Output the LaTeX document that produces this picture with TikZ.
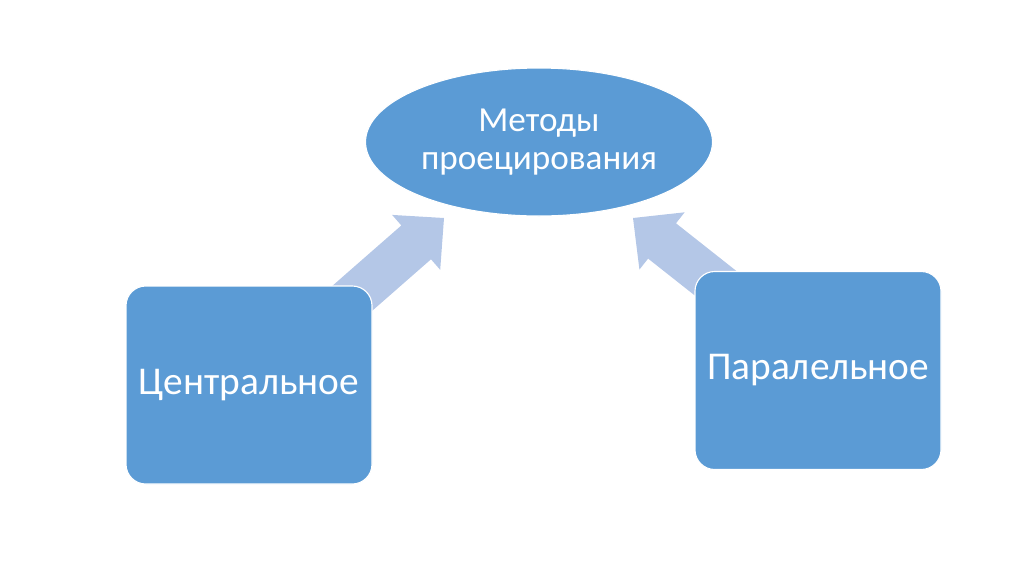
\documentclass[tikz,border=0pt]{standalone}
\usepackage{fontspec}
\setmainfont{Carlito}
\usetikzlibrary{shapes.geometric}
\definecolor{boxblue}{HTML}{5B9BD5}
\definecolor{arrowblue}{HTML}{B4C7E7}
\begin{document}
\begin{tikzpicture}[x=0.025cm,y=-0.025cm,
  bluebox/.style={draw=white,line width=0.8pt,fill=boxblue,rounded corners=14pt,
    minimum width=246*0.025cm,minimum height=198*0.025cm,text=white,font=\fontsize{28}{34}\selectfont},
  oval/.style={ellipse,draw=white,line width=0.8pt,fill=boxblue,minimum width=346*0.025cm,minimum height=148*0.025cm,
    text=white,align=center,font=\fontsize{25}{27}\selectfont},
  fatarrow/.style={fill=arrowblue}]
\useasboundingbox (0,0) rectangle (1024,574);
\node[oval] (m) at (539,142) {Методы\\проецирования};
\coordinate (ltip) at (444,218);
\coordinate (rtip) at (633,218);
\begin{scope}[shift={(ltip)},rotate=41.2]
  \fill[fatarrow] (0,0) -- (-37,36.5) -- (-37,22.5) -- (-150,22.5) -- (-150,-22.5) -- (-37,-22.5) -- (-37,-36.5) -- cycle;
\end{scope}
\begin{scope}[shift={(rtip)},rotate=141.7]
  \fill[fatarrow] (0,0) -- (-37,36.5) -- (-37,22.5) -- (-150,22.5) -- (-150,-22.5) -- (-37,-22.5) -- (-37,-36.5) -- cycle;
\end{scope}
\node[bluebox] (c) at (249,385) {Центральное};
\node[bluebox] (p) at (818,370.5) {Паралельное};
\end{tikzpicture}
\end{document}
